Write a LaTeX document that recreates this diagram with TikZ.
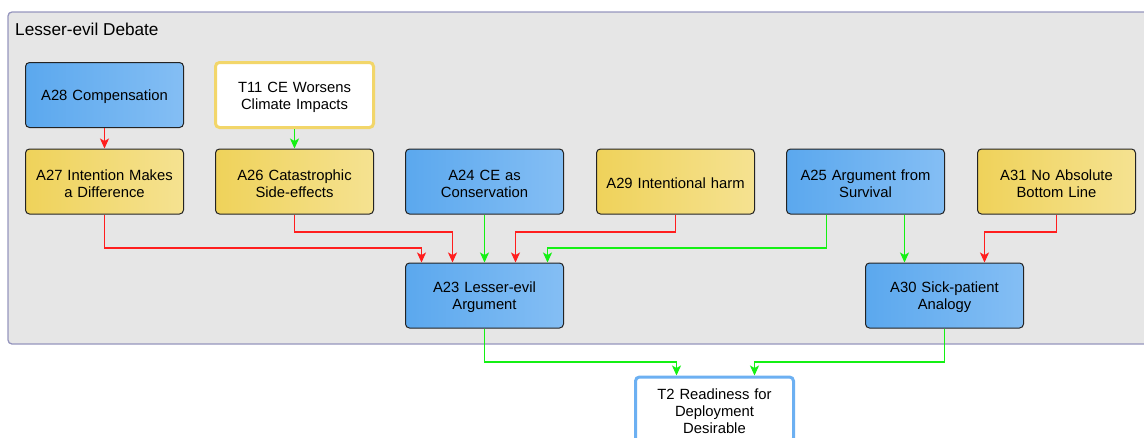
\documentclass[tikz,border=0pt]{standalone}
\usepackage{fontspec}
\setmainfont{Liberation Sans}
\usetikzlibrary{arrows.meta}
\definecolor{grpfill}{RGB}{230,230,230}
\definecolor{grpdraw}{RGB}{150,150,190}
\definecolor{blueL}{RGB}{91,168,238}
\definecolor{blueR}{RGB}{132,190,244}
\definecolor{yelL}{RGB}{239,210,90}
\definecolor{yelR}{RGB}{245,226,145}
\definecolor{yelB}{RGB}{242,214,106}
\definecolor{blueB}{RGB}{108,176,242}
\definecolor{ered}{RGB}{255,30,30}
\definecolor{egreen}{RGB}{20,240,20}
\definecolor{boxline}{RGB}{35,35,35}
\tikzset{
  argbox/.style={rectangle, rounded corners=4pt, draw=boxline, line width=1pt,
    minimum width=158pt, minimum height=65pt, inner sep=0pt},
  argtext/.style={text width=150pt, align=center, inner sep=0pt,
    font=\fontsize{14.8pt}{17pt}\selectfont},
  bluebox/.style={argbox, left color=blueL, right color=blueR},
  yelbox/.style={argbox, left color=yelL, right color=yelR},
  thesisY/.style={argbox, fill=white, draw=yelB, line width=3pt},
  thesisB/.style={argbox, fill=white, draw=blueB, line width=3pt},
  attack/.style={color=ered, line width=1.25pt, -{Stealth[length=10pt,width=9pt,inset=2.5pt]}},
  support/.style={color=egreen, line width=1.25pt, -{Stealth[length=10pt,width=9pt,inset=2.5pt]}}
}
\newcommand\argnode[4]{%
  \node[#3] (#1) at #2 {};
  \node[argtext] (#1-text) at ([yshift=-2pt]#1.center) {#4};
}
\begin{document}
\begin{tikzpicture}[x=1pt,y=-1pt]
\useasboundingbox (0,0) rectangle (1144,437);
\clip (0,0) rectangle (1144,437);
\draw[rounded corners=4pt, fill=grpfill, draw=grpdraw, line width=1.3pt] (8,12) rectangle (1170,344);
\node[anchor=base west, inner sep=0pt, font=\fontsize{17.2pt}{19pt}\selectfont] (title) at (15,35) {Lesser-evil Debate};

\argnode{A28}{(104.5,95)}{bluebox}{A28 Compensation}
\argnode{T11}{(294.5,95)}{thesisY}{T11 CE Worsens\\Climate Impacts}
\argnode{A27}{(104.5,181.5)}{yelbox}{A27 Intention Makes\\a Difference}
\argnode{A26}{(294.5,181.5)}{yelbox}{A26 Catastrophic\\Side-effects}
\argnode{A24}{(484.5,181.5)}{bluebox}{A24 CE as\\Conservation}
\argnode{A29}{(675.5,181.5)}{yelbox}{A29 Intentional harm}
\argnode{A25}{(865.5,181.5)}{bluebox}{A25 Argument from\\Survival}
\argnode{A31}{(1056.5,181.5)}{yelbox}{A31 No Absolute\\Bottom Line}
\argnode{A23}{(484.5,295.5)}{bluebox}{A23 Lesser-evil\\Argument}
\argnode{A30}{(944.5,295.5)}{bluebox}{A30 Sick-patient\\Analogy}
\argnode{T2}{(714.5,409.5)}{thesisB}{T2 Readiness for\\Deployment\\Desirable}

\draw[attack] (A28) -- (A27);
\draw[support] (T11) -- (A26);
\draw[attack] (A27.south) -- ++(0,33.5) -| ([xshift=-63pt]A23.north);
\draw[attack] (A26.south) -- ++(0,17.5) -| ([xshift=-32pt]A23.north);
\draw[support] (A24) -- (A23);
\draw[attack] (A29.south) -- ++(0,17.5) -| ([xshift=31pt]A23.north);
\draw[support] ([xshift=-39pt]A25.south) -- ++(0,33.5) -| ([xshift=63pt]A23.north);
\draw[support] ([xshift=39pt]A25.south) -- ([xshift=-40pt]A30.north);
\draw[attack] (A31.south) -- ++(0,17.5) -| ([xshift=40pt]A30.north);
\draw[support] (A23.south) -- ++(0,33.5) -| ([xshift=-38pt]T2.north);
\draw[support] (A30.south) -- ++(0,33.5) -| ([xshift=40pt]T2.north);
\end{tikzpicture}
\end{document}
